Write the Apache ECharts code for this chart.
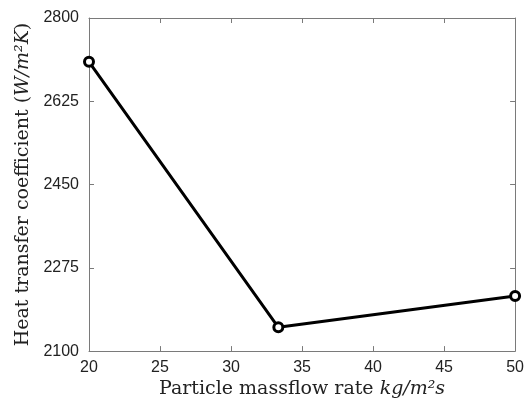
<!DOCTYPE html>
<html lang="en">
<head>
    <meta charset="UTF-8">
    <title>Heat transfer coefficient</title>
    <script src="https://cdn.jsdelivr.net/npm/echarts@6/dist/echarts.min.js"></script>
    <style>
        html, body { margin: 0; padding: 0; background: #fff; }
        #chart { width: 527px; height: 404px; }
    </style>
</head>
<body>
<div id="chart"></div>
<script>
    // data
    var massflow = [20, 33.33, 50];
    var htc = [2708, 2150, 2216];
    var xTicks = [20, 25, 30, 35, 40, 45, 50];
    var yTicks = [2100, 2275, 2450, 2625, 2800];

    var axisGray = '#7a7a7a';
    var serif = '"DejaVu Serif", "Liberation Serif", serif';
    var sans = '"Liberation Sans", Arial, sans-serif';

    var chart = echarts.init(document.getElementById('chart'));

    var points = [];
    for (var i = 0; i < massflow.length; i++) {
        points.push([massflow[i], htc[i]]);
    }

    function baseAxis(ticks, extra) {
        var ax = {
            type: 'value',
            min: ticks[0],
            max: ticks[ticks.length - 1],
            interval: ticks[1] - ticks[0],
            axisLine: {show: true, lineStyle: {color: axisGray, width: 1}},
            axisTick: {show: true, inside: true, length: 5, lineStyle: {color: axisGray}},
            splitLine: {show: false},
            axisLabel: {show: false}
        };
        for (var k in extra) ax[k] = extra[k];
        return ax;
    }

    var titleRich = {
        r: {fontFamily: serif, fontSize: 19, color: '#222'},
        i: {fontFamily: serif, fontSize: 19, fontStyle: 'italic', color: '#222'}
    };

    var option = {
        animation: false,
        backgroundColor: '#fff',
        grid: {left: 89, right: 9, top: 18, bottom: 51},
        xAxis: [
            baseAxis(xTicks, {
                position: 'bottom',
                axisLabel: {show: true, color: '#222', fontSize: 16, fontFamily: sans, margin: 8,
                    formatter: function (v) { return String(v); }},
                name: '{r|Particle massflow rate }{i|kg/m²s}',
                nameLocation: 'middle',
                nameGap: 28,
                nameTextStyle: {rich: titleRich}
            }),
            baseAxis(xTicks, {position: 'top'})
        ],
        yAxis: [
            baseAxis(yTicks, {
                position: 'left',
                axisLabel: {show: true, color: '#222', fontSize: 16, fontFamily: sans, margin: 10,
                    formatter: function (v) { return String(v); }},
                name: '{r|Heat transfer coefficient (}{i|W/m²K}{r|)}',
                nameLocation: 'middle',
                nameGap: 55,
                nameTextStyle: {rich: titleRich}
            }),
            baseAxis(yTicks, {position: 'right'})
        ],
        series: [{
            type: 'line',
            data: points,
            xAxisIndex: 0,
            yAxisIndex: 0,
            symbol: 'circle',
            symbolSize: 9,
            showAllSymbol: true,
            lineStyle: {color: '#000', width: 3},
            itemStyle: {color: '#fff', borderColor: '#000', borderWidth: 3},
            z: 5
        }]
    };
    chart.setOption(option);
</script>
</body>
</html>
